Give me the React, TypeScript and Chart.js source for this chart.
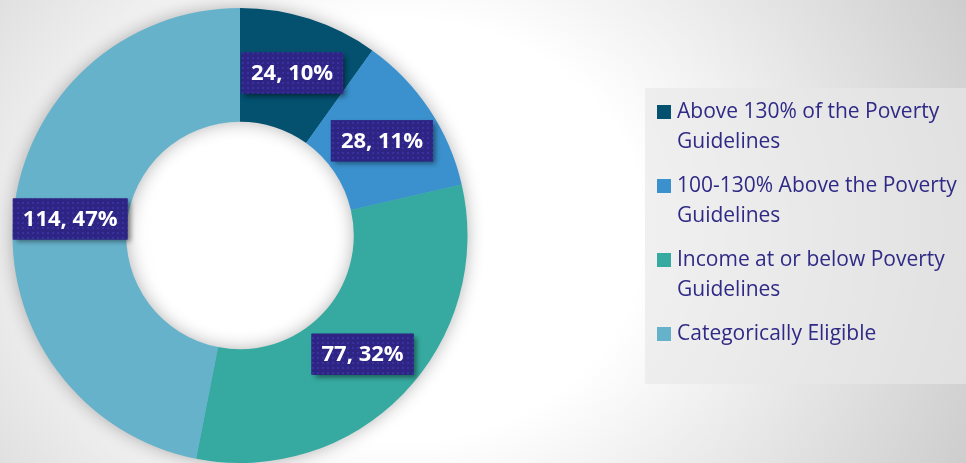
import React, { useEffect, useRef } from 'react';
import { Chart, registerables } from 'chart.js';
Chart.register(...registerables);

const categories = [
  'Above 130% of the Poverty Guidelines',
  '100-130% Above the Poverty Guidelines',
  'Income at or below Poverty Guidelines',
  'Categorically Eligible',
];
const counts = [24, 28, 77, 114];
const percents = [10, 11, 32, 47];
const colors = ['#03506F', '#3A91CE', '#36AAA0', '#67B2CB'];

const W = 966;
const H = 463;
const TEXT_COLOR = '#2F2A85';

function wrap(ctx: CanvasRenderingContext2D, text: string, maxW: number): string[] {
  const words = text.split(' ');
  const lines: string[] = [];
  let cur = '';
  for (const w of words) {
    const t = cur ? cur + ' ' + w : w;
    if (cur && ctx.measureText(t).width > maxW) {
      lines.push(cur);
      cur = w;
    } else cur = t;
  }
  if (cur) lines.push(cur);
  return lines;
}

export default function App() {
  const ref = useRef<HTMLCanvasElement>(null);
  useEffect(() => {
    document.body.style.margin = '0';
    const canvas = ref.current!;
    const ctx = canvas.getContext('2d')!;

    const tile = document.createElement('canvas');
    tile.width = 5;
    tile.height = 5;
    const tc = tile.getContext('2d')!;
    tc.fillStyle = '#2D2483';
    tc.fillRect(0, 0, 5, 5);
    tc.fillStyle = '#3A31A0';
    tc.fillRect(2, 2, 2, 2);

    const legendBox = {
      id: 'legendBox',
      beforeDraw(chart: any) {
        const c = chart.ctx;
        c.save();
        c.fillStyle = 'rgba(232,232,232,0.65)';
        c.fillRect(645, 88, W - 645, 296);
        c.restore();
      },
      afterDraw(chart: any) {
        const c = chart.ctx;
        c.save();
        c.font = "21px 'Open Sans'";
        c.textBaseline = 'alphabetic';
        c.textAlign = 'left';
        let base = 118;
        categories.forEach((cat, i) => {
          c.fillStyle = colors[i];
          c.fillRect(657, base - 13, 14, 14);
          c.fillStyle = TEXT_COLOR;
          const lines = wrap(c, cat, W - 677);
          lines.forEach((ln, j) => {
            c.fillText(ln, 677, base + j * 30);
          });
          base += lines.length * 30 + 14;
        });
        c.restore();
      },
    };

    const ringShadow = {
      id: 'ringShadow',
      beforeDatasetsDraw(chart: any) {
        const arc = chart.getDatasetMeta(0).data[0];
        if (!arc) return;
        const { x, y, innerRadius, outerRadius } = arc.getProps(
          ['x', 'y', 'innerRadius', 'outerRadius'],
          true
        );
        const c = chart.ctx;
        c.save();
        c.shadowColor = 'rgba(0,0,0,0.32)';
        c.shadowBlur = 18;
        c.beginPath();
        c.arc(x, y, outerRadius - 1, 0, Math.PI * 2);
        c.moveTo(x + innerRadius + 1, y);
        c.arc(x, y, innerRadius + 1, 0, Math.PI * 2, true);
        c.closePath();
        c.fillStyle = colors[3];
        c.fill();
        c.restore();
      },
    };

    const boxLabels = {
      id: 'boxLabels',
      afterDatasetsDraw(chart: any) {
        const c = chart.ctx;
        const meta = chart.getDatasetMeta(0);
        const pattern = c.createPattern(tile, 'repeat');
        c.save();
        c.font = "bold 22px 'Open Sans'";
        c.textAlign = 'center';
        c.textBaseline = 'middle';
        meta.data.forEach((arc: any, i: number) => {
          const p = arc.getCenterPoint();
          const text = `${counts[i]}, ${percents[i]}%`;
          const tw = c.measureText(text).width;
          const bw = tw + 20;
          const bh = 41;
          const bx = p.x - bw / 2;
          const by = p.y - bh / 2;
          c.save();
          c.shadowColor = 'rgba(0,0,0,0.45)';
          c.shadowOffsetX = 3;
          c.shadowOffsetY = 3;
          c.shadowBlur = 5;
          c.fillStyle = '#2D2483';
          c.fillRect(bx, by, bw, bh);
          c.restore();
          c.fillStyle = pattern || '#2D2483';
          c.fillRect(bx, by, bw, bh);
          c.fillStyle = '#FFFFFF';
          c.fillText(text, p.x, p.y + 1);
        });
        c.restore();
      },
    };

    const chart = new Chart(ctx, {
      type: 'doughnut',
      data: {
        labels: categories,
        datasets: [
          {
            data: counts,
            backgroundColor: colors,
            borderWidth: 0,
            clip: false as any,
          },
        ],
      },
      options: {
        responsive: false,
        animation: false,
        cutout: '50%',
        layout: { padding: { left: 12, right: 498, top: 8, bottom: 0 } },
        plugins: {
          legend: { display: false },
          tooltip: { enabled: false },
        },
      },
      plugins: [legendBox, ringShadow, boxLabels],
    });
    return () => chart.destroy();
  }, []);

  return (
    <div
      style={{
        width: W,
        height: H,
        position: 'relative',
        overflow: 'hidden',
        background:
          'radial-gradient(ellipse 700px 600px at 400px 230px, #ffffff 0%, #ffffff 35%, #c4c4c4 100%)',
      }}
    >
      <canvas ref={ref} width={W} height={H} style={{ display: 'block' }} />
    </div>
  );
}
